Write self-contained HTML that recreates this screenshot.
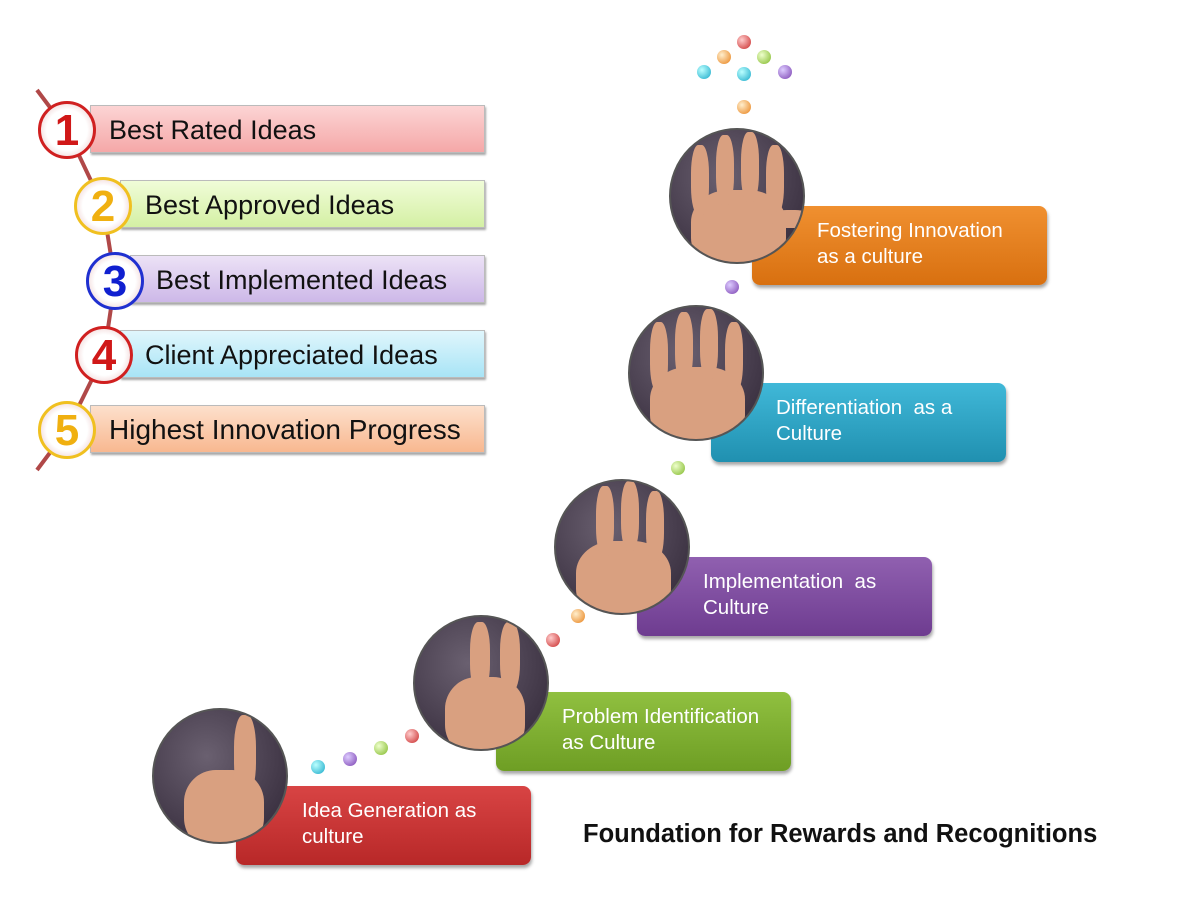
<!DOCTYPE html>
<html><head><meta charset="utf-8"><style>
body{margin:0;width:1200px;height:900px;background:#fff;position:relative;overflow:hidden;font-family:"Liberation Sans",sans-serif}
.bar{position:absolute;height:48px;border:1px solid #bbb;box-shadow:1px 2px 2px rgba(0,0,0,.35);font-size:27px;line-height:48px;color:#111;box-sizing:border-box;white-space:nowrap}
.num{position:absolute;width:58px;height:58px;border-radius:50%;background:radial-gradient(circle,#fff 55%,#f4e0e0 75%);font:bold 44px/54px "Liberation Sans",sans-serif;text-align:center;box-sizing:border-box}
.box{position:absolute;width:295px;height:79px;border-radius:8px;color:#fff;font-size:20.5px;line-height:26px;box-sizing:border-box;padding-top:12px;box-shadow:1px 3px 3px rgba(0,0,0,.35);white-space:nowrap}
.hand{position:absolute;width:136px;height:136px;border-radius:50%;background:radial-gradient(circle at 40% 35%,#6a6070,#3a3040 80%);border:2px solid #555;box-sizing:border-box;overflow:hidden}
.skin{position:absolute;background:#d9a080;border-radius:40%}
.dot{position:absolute;width:14px;height:14px;border-radius:50%}
</style></head><body>
<svg style="position:absolute;left:0;top:0" width="1200" height="900"><polyline points="37,90 67,130 103,206 115,281 104,355 67,430 37,470" fill="none" stroke="#b04848" stroke-width="4"/></svg>
<div class="bar" style="left:90px;top:105px;width:395px;background:linear-gradient(#fcd4d4,#f5a8a8);padding-left:18px">Best Rated Ideas</div>
<div class="bar" style="left:120px;top:180px;width:365px;background:linear-gradient(#f0fcd8,#d4f0a4);padding-left:24px">Best Approved Ideas</div>
<div class="bar" style="left:130px;top:255px;width:355px;background:linear-gradient(#ece2f6,#cdb8e8);padding-left:25px">Best Implemented Ideas</div>
<div class="bar" style="left:120px;top:330px;width:365px;background:linear-gradient(#e0f6fc,#a8e4f6);padding-left:24px">Client Appreciated Ideas</div>
<div class="bar" style="left:90px;top:405px;width:395px;background:linear-gradient(#fde0cc,#f8b890);padding-left:18px;font-size:28px">Highest Innovation Progress</div>
<div class="num" style="left:38px;top:101px;color:#d01818;border:3px solid #d02020">1</div>
<div class="num" style="left:74px;top:177px;color:#f0b010;border:3px solid #f0c020">2</div>
<div class="num" style="left:86px;top:252px;color:#1020d0;border:3px solid #2030d0">3</div>
<div class="num" style="left:75px;top:326px;color:#d01818;border:3px solid #d02020">4</div>
<div class="num" style="left:38px;top:401px;color:#f0b010;border:3px solid #f0c020">5</div>

<div class="box" style="left:236px;top:786px;background:linear-gradient(#d84444,#b82828);padding-left:66px">Idea Generation as<br>culture</div>
<div class="box" style="left:496px;top:692px;background:linear-gradient(#90c040,#6e9e24);padding-left:66px">Problem Identification<br>as Culture</div>
<div class="box" style="left:637px;top:557px;background:linear-gradient(#9060b0,#6e3c90);padding-left:66px">Implementation &nbsp;as<br>Culture</div>
<div class="box" style="left:711px;top:383px;background:linear-gradient(#40b8d8,#2090b0);padding-left:65px">Differentiation &nbsp;as a<br>Culture</div>
<div class="box" style="left:752px;top:206px;background:linear-gradient(#f09030,#d87010);padding-left:65px">Fostering Innovation<br>as a culture</div>

<div class="hand" style="left:152px;top:708px"><div class="skin" style="left:30px;top:60px;width:80px;height:80px"></div><div class="skin" style="left:80px;top:5px;width:22px;height:80px"></div></div>
<div class="hand" style="left:413px;top:615px"><div class="skin" style="left:30px;top:60px;width:80px;height:80px"></div><div class="skin" style="left:55px;top:5px;width:20px;height:70px"></div><div class="skin" style="left:85px;top:5px;width:20px;height:70px"></div></div>
<div class="hand" style="left:554px;top:479px"><div class="skin" style="left:20px;top:60px;width:95px;height:80px"></div><div class="skin" style="left:40px;top:5px;width:18px;height:70px"></div><div class="skin" style="left:65px;top:0px;width:18px;height:70px"></div><div class="skin" style="left:90px;top:10px;width:18px;height:70px"></div></div>
<div class="hand" style="left:628px;top:305px"><div class="skin" style="left:20px;top:60px;width:95px;height:80px"></div><div class="skin" style="left:20px;top:15px;width:18px;height:70px"></div><div class="skin" style="left:45px;top:5px;width:18px;height:70px"></div><div class="skin" style="left:70px;top:2px;width:18px;height:70px"></div><div class="skin" style="left:95px;top:15px;width:18px;height:70px"></div></div>
<div class="hand" style="left:669px;top:128px"><div class="skin" style="left:20px;top:60px;width:95px;height:80px"></div><div class="skin" style="left:20px;top:15px;width:18px;height:70px"></div><div class="skin" style="left:45px;top:5px;width:18px;height:70px"></div><div class="skin" style="left:70px;top:2px;width:18px;height:70px"></div><div class="skin" style="left:95px;top:15px;width:18px;height:70px"></div><div class="skin" style="left:100px;top:80px;width:40px;height:18px"></div></div>

<div class="dot" style="left:311px;top:760px;background:radial-gradient(circle at 35% 35%,#bff,#18a8c8)"></div>
<div class="dot" style="left:343px;top:752px;background:radial-gradient(circle at 35% 35%,#dcf,#7a40b0)"></div>
<div class="dot" style="left:374px;top:741px;background:radial-gradient(circle at 35% 35%,#efc,#80b828)"></div>
<div class="dot" style="left:405px;top:729px;background:radial-gradient(circle at 35% 35%,#fcc,#c82828)"></div>
<div class="dot" style="left:546px;top:633px;background:radial-gradient(circle at 35% 35%,#fcc,#c82828)"></div>
<div class="dot" style="left:571px;top:609px;background:radial-gradient(circle at 35% 35%,#fec,#e88018)"></div>
<div class="dot" style="left:671px;top:461px;background:radial-gradient(circle at 35% 35%,#efc,#80b828)"></div>
<div class="dot" style="left:725px;top:280px;background:radial-gradient(circle at 35% 35%,#dcf,#7a40b0)"></div>
<div class="dot" style="left:737px;top:100px;background:radial-gradient(circle at 35% 35%,#fec,#e88018)"></div>
<div class="dot" style="left:737px;top:35px;background:radial-gradient(circle at 35% 35%,#fcc,#c82828)"></div>
<div class="dot" style="left:717px;top:50px;background:radial-gradient(circle at 35% 35%,#fec,#e88018)"></div>
<div class="dot" style="left:757px;top:50px;background:radial-gradient(circle at 35% 35%,#efc,#80b828)"></div>
<div class="dot" style="left:697px;top:65px;background:radial-gradient(circle at 35% 35%,#bff,#18a8c8)"></div>
<div class="dot" style="left:737px;top:67px;background:radial-gradient(circle at 35% 35%,#bff,#18a8c8)"></div>
<div class="dot" style="left:778px;top:65px;background:radial-gradient(circle at 35% 35%,#dcf,#7a40b0)"></div>

<div style="position:absolute;left:583px;top:820px;font-weight:bold;font-size:25.5px;color:#111;white-space:nowrap">Foundation for Rewards and Recognitions</div>
</body></html>
